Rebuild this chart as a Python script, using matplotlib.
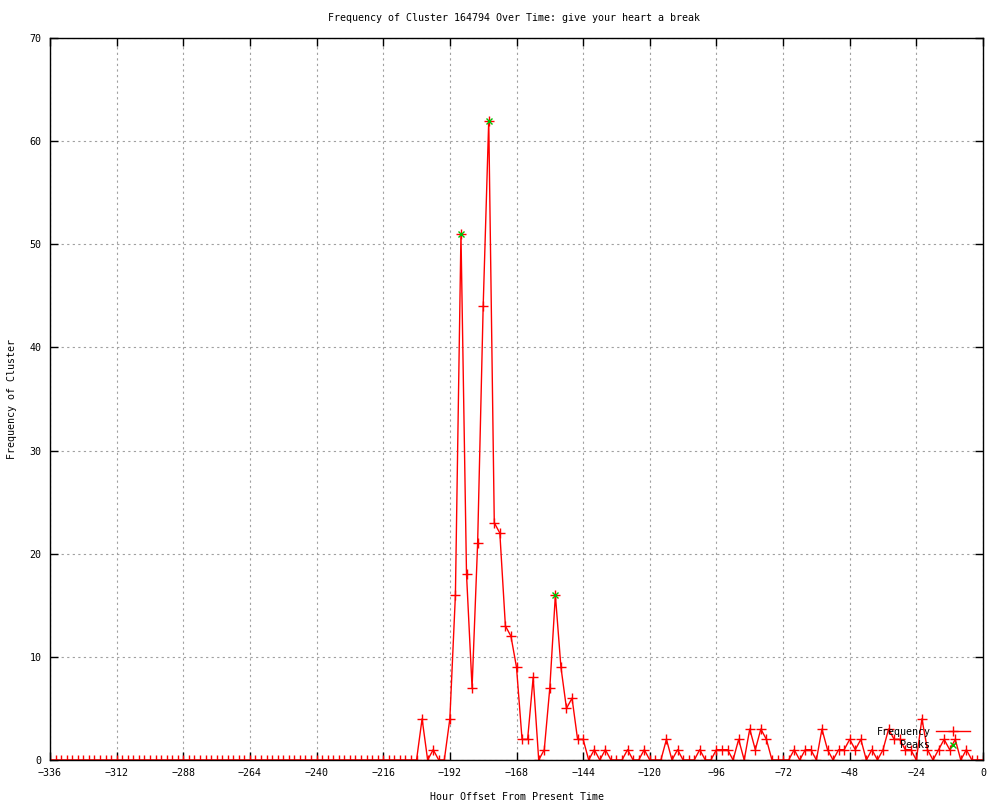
import numpy as np
import matplotlib
matplotlib.use('Agg')
import matplotlib.pyplot as plt

# hours before now, one sample every 2 hours
hours = np.arange(-336, 1, 2)

# frequency per sample: flat zero up to -204, then the burst
freq = [0] * 67 + [
    4, 0, 1, 0, 0, 4, 16, 51, 18, 7,        # -202 .. -184
    21, 44, 62, 23, 22, 13, 12, 9, 2, 2,    # -182 .. -164
    8, 0, 1, 7, 16, 9, 5, 6, 2, 2,          # -162 .. -144
    0, 1, 0, 1, 0, 0, 0, 1, 0, 0,           # -142 .. -124
    1, 0, 0, 0, 2, 0, 1, 0, 0, 0,           # -122 .. -104
    1, 0, 0, 1, 1, 1, 0, 2, 0, 3,           # -102 .. -84
    1, 3, 2, 0, 0, 0, 0, 1, 0, 1,           # -82 .. -64
    1, 0, 3, 1, 0, 1, 1, 2, 1, 2,           # -62 .. -44
    0, 1, 0, 1, 3, 2, 2, 1, 1, 0,           # -42 .. -24
    4, 1, 0, 1, 2, 1, 2, 0, 1, 0,           # -22 .. -4
    0, 0,                                   # -2 .. 0
]

peak_hours = [-188, -178, -154]
peak_vals = [51, 62, 16]

xticks = list(range(-336, 1, 24))
yticks = list(range(0, 71, 10))

plt.rcParams['font.family'] = ['DejaVu Sans Mono']
plt.rcParams['font.size'] = 7.2

fig = plt.figure(figsize=(10, 8), dpi=100)
ax = fig.add_axes([0.05, 0.05, 0.933, 0.9025])

ax.plot(hours, freq, color='#ff0000', lw=1, marker='+', ms=7, mew=1,
        label='Frequency')
ax.plot(peak_hours, peak_vals, ls='none', color='#00c000', marker='x',
        ms=5, mew=1, label='Peaks')

ax.set_xlim(-336, 0)
ax.set_ylim(0, 70)
ax.set_xticks(xticks)
ax.set_yticks(yticks)
ax.tick_params(direction='in', top=True, right=True, length=6, width=1,
               pad=6, labelsize=7.2)
ax.grid(True, color='#a0a0a0', linestyle=(0, (2, 3)), lw=0.8)
for s in ax.spines.values():
    s.set_linewidth(1)

ax.set_xlabel('Hour Offset From Present Time')
ax.xaxis.set_label_coords(0.5, -0.044)
ax.set_ylabel('Frequency of Cluster')
ax.yaxis.set_label_coords(-0.035, 0.5)

fig.text(0.5145, 0.9775, 'Frequency of Cluster 164794 Over Time: give your heart a break',
         ha='center', va='center', fontsize=7.2)

ax.legend(loc='lower right', bbox_to_anchor=(0.994, 0.004), frameon=False,
          markerfirst=False, handlelength=3.4, labelspacing=0.35,
          handletextpad=0.6, borderpad=0.2, fontsize=7.2)

fig.savefig('out.png', dpi=100)
